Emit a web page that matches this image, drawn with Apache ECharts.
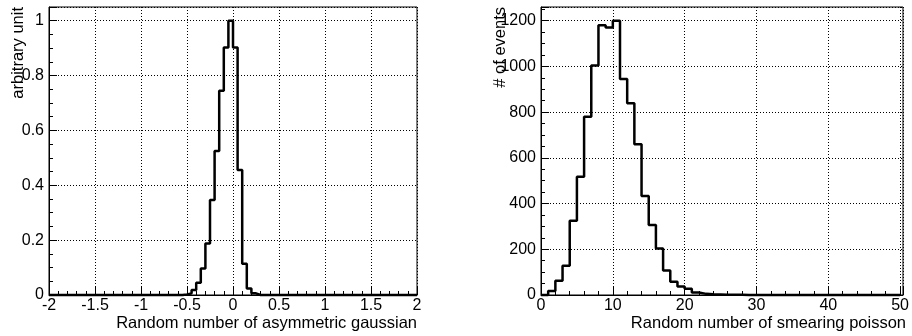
<!DOCTYPE html>
<html>
<head>
<meta charset="utf-8">
<script src="https://cdn.jsdelivr.net/npm/echarts@6/dist/echarts.min.js"></script>
<style>
  html, body { margin: 0; padding: 0; background: #fff; }
  #chart { width: 912px; height: 336px; }
</style>
</head>
<body>
<div id="chart"></div>
<script>
// Asymmetric gaussian: 80 bins of equal width over gaussRange, normalised to the peak
const gaussRange = [-2, 2];
const gaussValues = [
  0, 0, 0, 0, 0, 0, 0, 0, 0, 0,
  0, 0, 0, 0, 0, 0, 0, 0, 0, 0,
  0, 0, 0, 0, 0, 0, 0, 0, 0, 0.002,
  0.006, 0.018, 0.045, 0.097, 0.188, 0.346, 0.525, 0.745, 0.902, 1.0,
  0.902, 0.456, 0.114, 0.024, 0.006, 0, 0, 0, 0, 0,
  0, 0, 0, 0, 0, 0, 0, 0, 0, 0,
  0, 0, 0, 0, 0, 0, 0, 0, 0, 0,
  0, 0, 0, 0, 0, 0, 0, 0, 0, 0
];
const gaussXTicks = ['-2', '-1.5', '-1', '-0.5', '0', '0.5', '1', '1.5', '2'];
const gaussYTicks = ['0', '0.2', '0.4', '0.6', '0.8', '1'];

// Smeared poisson: 50 unit-width bins over poissonRange, event counts
const poissonRange = [0, 50];
const poissonValues = [
  0, 18, 62, 128, 325, 517, 780, 1004, 1180, 1170,
  1200, 945, 839, 659, 433, 306, 203, 107, 58, 37,
  27, 11, 5, 3, 2, 1, 1, 1, 0, 0,
  0, 0, 0, 0, 0, 0, 0, 0, 0, 0,
  0, 0, 0, 0, 0, 0, 0, 0, 0, 0
];
const poissonXTicks = ['0', '10', '20', '30', '40', '50'];
const poissonYTicks = ['0', '200', '400', '600', '800', '1000', '1200'];

const FONT = '"Liberation Sans", Arial, Helvetica, sans-serif';
const BLACK = '#000';

// Turn bin contents into step-line vertices at the bin edges
function stepPoints(range, values) {
  const w = (range[1] - range[0]) / values.length;
  const pts = values.map((v, i) => [range[0] + i * w, v]);
  pts.push([range[1], values[values.length - 1]]);
  return pts;
}

function labelFrom(list) {
  return (v) => {
    const hit = list.find((s) => Math.abs(parseFloat(s) - v) < 1e-9);
    return hit === undefined ? '' : hit;
  };
}

function majorAxis(dim, gridIndex, min, max, interval, ticks) {
  return {
    type: 'value', gridIndex, min, max, interval,
    position: dim === 'x' ? 'bottom' : 'left',
    axisLine: { show: true, onZero: false, lineStyle: { color: BLACK, width: 1 } },
    axisTick: { show: true, inside: true, length: 8, lineStyle: { color: BLACK, width: 1 } },
    minorTick: { show: false },
    axisLabel: {
      show: true, margin: dim === 'x' ? 3 : 5, color: BLACK,
      fontSize: 16, fontFamily: FONT, formatter: labelFrom(ticks),
      showMinLabel: true, showMaxLabel: true, hideOverlap: false
    },
    splitLine: { show: true, lineStyle: { color: BLACK, width: 1, type: [1, 2] } }
  };
}

function minorAxis(dim, gridIndex, min, max, interval) {
  return {
    type: 'value', gridIndex, min, max, interval,
    position: dim === 'x' ? 'bottom' : 'left', offset: 0,
    axisLine: { show: false, onZero: false },
    axisTick: { show: true, inside: true, length: 4, lineStyle: { color: BLACK, width: 1 } },
    axisLabel: { show: false },
    splitLine: { show: false }
  };
}

function histSeries(idx, range, values) {
  return {
    type: 'line', xAxisIndex: idx * 2, yAxisIndex: idx * 2,
    data: stepPoints(range, values), step: 'end',
    symbol: 'none', clip: false, silent: true,
    lineStyle: { color: BLACK, width: 2.5 }
  };
}

const chart = echarts.init(document.getElementById('chart'), null, { renderer: 'canvas' });

chart.setOption({
  animation: false,
  backgroundColor: '#fff',
  grid: [
    { left: 49, top: 7, width: 368, height: 288, show: true, borderColor: BLACK, borderWidth: 1, backgroundColor: 'transparent', containLabel: false },
    { left: 541, top: 7, width: 364, height: 288, show: true, borderColor: BLACK, borderWidth: 1, backgroundColor: 'transparent', containLabel: false }
  ],
  xAxis: [
    majorAxis('x', 0, gaussRange[0], gaussRange[1], 0.5, gaussXTicks),
    minorAxis('x', 0, gaussRange[0], gaussRange[1], 0.1),
    majorAxis('x', 1, poissonRange[0], 50.4, 10, poissonXTicks),
    minorAxis('x', 1, poissonRange[0], 50.4, 2)
  ],
  yAxis: [
    majorAxis('y', 0, 0, 1.05, 0.2, gaussYTicks),
    minorAxis('y', 0, 0, 1.05, 0.05),
    majorAxis('y', 1, 0, 1260, 200, poissonYTicks),
    minorAxis('y', 1, 0, 1260, 50)
  ],
  series: [
    histSeries(0, gaussRange, gaussValues),
    histSeries(1, poissonRange, poissonValues)
  ],
  graphic: [
    { type: 'text', x: 18, y: 7, rotation: Math.PI / 2,
      style: { text: 'arbitrary unit', fontSize: 16.5, fontFamily: FONT, fill: BLACK, align: 'right', verticalAlign: 'middle' } },
    { type: 'text', x: 500, y: 7, rotation: Math.PI / 2,
      style: { text: '# of events', fontSize: 16.5, fontFamily: FONT, fill: BLACK, align: 'right', verticalAlign: 'middle' } },
    { type: 'text', x: 417, y: 323,
      style: { text: 'Random number of asymmetric gaussian', fontSize: 16.5, fontFamily: FONT, fill: BLACK, align: 'right', verticalAlign: 'middle' } },
    { type: 'text', x: 906, y: 323,
      style: { text: 'Random number of smearing poisson', fontSize: 16.5, fontFamily: FONT, fill: BLACK, align: 'right', verticalAlign: 'middle' } }
  ]
});
</script>
</body>
</html>
